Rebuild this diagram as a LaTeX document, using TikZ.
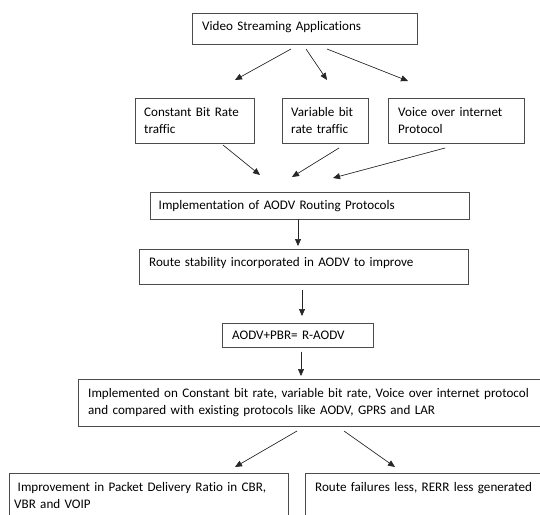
\documentclass[tikz,border=0pt]{standalone}
\usepackage{fontspec}
\setmainfont[Ligatures=NoCommon]{Carlito}
\usetikzlibrary{arrows.meta}
\tikzset{
  box/.style={draw=black!70, line width=0.8pt, inner sep=0pt, anchor=north west},
  txt/.style={inner sep=0pt, anchor=base west, font=\fontsize{13.1}{17.8}\selectfont, align=left},
  arr/.style={-{Triangle[length=7pt,width=6pt]}, line width=0.6pt, draw=black!85, fill=black}
}
\begin{document}
\begin{tikzpicture}[x=1pt,y=-1pt]
\clip (0,0) rectangle (540,514);
\fill[white] (0,0) rectangle (540,514);
% boxes
\node[box, minimum width=225pt, minimum height=31.6pt] (vid) at (192,12.7) {};
\node[txt, text width=215pt] (vidt) at (202,30) {Video Streaming Applications};
\node[box, minimum width=119pt, minimum height=45.6pt] (cbr) at (135,97.7) {};
\node[txt, text width=110pt] (cbrt) at (144,116) {Constant Bit Rate\\traffic};
\node[box, minimum width=86pt, minimum height=45.6pt] (vbr) at (282,97.7) {};
\node[txt, text width=78pt] (vbrt) at (291,116) {Variable bit\\rate traffic};
\node[box, minimum width=136pt, minimum height=45.6pt] (voip) at (388,97.7) {};
\node[txt, text width=126pt] (voipt) at (398,116) {Voice over internet\\Protocol};
\node[box, minimum width=319pt, minimum height=27.3pt] (impl) at (150,192) {};
\node[txt, text width=305pt] (implt) at (158.5,209.3) {Implementation of AODV Routing Protocols};
\node[box, minimum width=329pt, minimum height=35.6pt] (route) at (139,248.7) {};
\node[txt, text width=315pt] (routet) at (149,266.7) {Route stability incorporated in AODV to improve};
\node[box, minimum width=151pt, minimum height=24.6pt] (aodv) at (222,322.7) {};
\node[txt, text width=140pt] (aodvt) at (232,339.3) {AODV+PBR= R-AODV};
\node[box, minimum width=467pt, minimum height=47pt] (impl2) at (78,379) {};
\node[txt, text width=450pt] (impl2t) at (88,397) {Implemented on Constant bit rate, variable bit rate, Voice over internet protocol\\and compared with existing protocols like AODV, GPRS and LAR};
\node[box, minimum width=279pt, minimum height=50pt] (bl) at (9,473) {};
\node[txt, text width=300pt] (blt) at (14,491) {\hspace*{3.5pt}Improvement in Packet Delivery Ratio in CBR,\\VBR and VOIP};
\node[box, minimum width=240pt, minimum height=50pt] (br) at (305,473) {};
\node[txt, text width=222pt] (brt) at (315,491) {Route failures less, RERR less generated};
% arrow end points
\coordinate (a1s) at (291,49);  \coordinate (a1e) at (235,80);
\coordinate (a2s) at (306,49);  \coordinate (a2e) at (327,80);
\coordinate (a3s) at (327,49);  \coordinate (a3e) at (408,81);
\coordinate (b1s) at (223,145); \coordinate (b1e) at (260,175);
\coordinate (b2s) at (339,148); \coordinate (b2e) at (292,177);
\coordinate (b3s) at (445,148); \coordinate (b3e) at (333,178);
\coordinate (c1s) at (298,219.3); \coordinate (c1e) at (298,246);
\coordinate (c2s) at (302,290); \coordinate (c2e) at (302,316);
\coordinate (c3s) at (301,351.7); \coordinate (c3e) at (301,376);
\coordinate (d1s) at (297,431); \coordinate (d1e) at (235,467);
\coordinate (d2s) at (344,431); \coordinate (d2e) at (395,467);
\foreach \n in {a1,a2,a3,b1,b2,b3,c1,c2,c3,d1,d2}
  \draw[arr] (\n s) -- (\n e);
\end{tikzpicture}
\end{document}
